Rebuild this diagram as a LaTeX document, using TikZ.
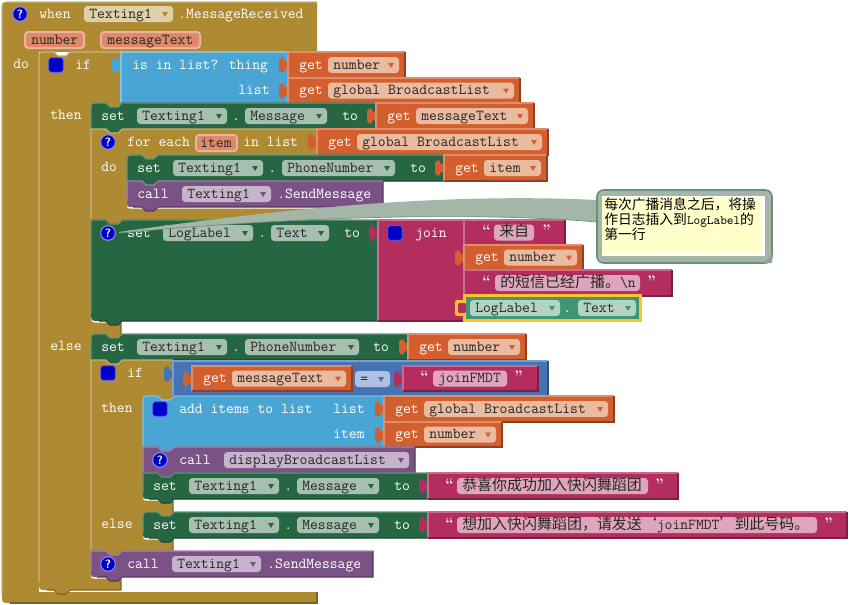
\documentclass[tikz,border=0pt]{standalone}
\usepackage{fontspec}
\usepackage{xcolor}
\usepackage{tikz}
\newfontfamily\cjk[Scale=0.985]{Noto Sans CJK SC}
\newcommand{\fwcomma}{\symbol{"FF0C}}

% 积木颜色
\definecolor{brownFill}{HTML}{AE8A33}
\definecolor{brownLight}{HTML}{CBB474}
\definecolor{brownDark}{HTML}{7F6525}
\definecolor{blueFill}{HTML}{49A5D4}
\definecolor{blueLight}{HTML}{82C2E2}
\definecolor{blueDark}{HTML}{33739A}
\definecolor{greenFill}{HTML}{266643}
\definecolor{greenLight}{HTML}{67947B}
\definecolor{greenDark}{HTML}{1B4730}
\definecolor{orangeFill}{HTML}{D25F2D}
\definecolor{orangeLight}{HTML}{E08D6C}
\definecolor{orangeDark}{HTML}{933F1F}
\definecolor{purpleFill}{HTML}{7B5285}
\definecolor{purpleLight}{HTML}{A386AA}
\definecolor{purpleDark}{HTML}{56395D}
\definecolor{pinkFill}{HTML}{B32D5E}
\definecolor{pinkLight}{HTML}{CA6C8E}
\definecolor{pinkDark}{HTML}{7D1F41}
\definecolor{steelFill}{HTML}{4573B4}
\definecolor{steelLight}{HTML}{7D9FCC}
\definecolor{steelDark}{HTML}{30507E}
\definecolor{labelFill}{HTML}{3E9674}
\definecolor{labelEdge}{HTML}{FFC32A}
\definecolor{getPill}{HTML}{EBBBA0}
\definecolor{setPill}{HTML}{A7BFB0}
\definecolor{callPill}{HTML}{C5B4CB}
\definecolor{textPill}{HTML}{DFA5BD}
\definecolor{whenPill}{HTML}{DED1A9}
\definecolor{labelPill}{HTML}{B3D4C3}
\definecolor{steelPill}{HTML}{AFC0E0}
\definecolor{argPill}{HTML}{DE8A6A}
\definecolor{argEdge}{HTML}{EDB39F}
\definecolor{iconBlue}{HTML}{0000C8}
\definecolor{noteGreen}{HTML}{A3B6A8}
\definecolor{noteEdge}{HTML}{6E8F77}
\definecolor{noteYellow}{HTML}{FFFFCC}

\tikzset{
    lab/.style={text=white, inner sep=0pt, anchor=base west, font=\ttfamily\fontsize{11.4}{11.4}\selectfont},
    quotemark/.style={lab, font=\rmfamily\bfseries\fontsize{11.4}{11.4}\selectfont},
    pilltext/.style={text=black!85, inner sep=0pt, anchor=base west, font=\ttfamily\fontsize{11.4}{11.4}\selectfont},
    helpicon/.style={circle, fill=iconBlue, draw=iconBlue!45, line width=.8pt, minimum size=11pt, inner sep=0pt,
        text=white, font=\sffamily\bfseries\fontsize{9}{9}\selectfont},
    mutator/.style={rectangle, rounded corners=2pt, fill=iconBlue, draw=iconBlue!60, line width=.6pt, minimum size=11pt, inner sep=0pt},
}

% 语句积木: 种类, x0, y0, x1, y1, 上圆角, 下圆角
\newcommand{\Stmt}[7]{
    \ifnum#7>0
        \fill[white, yshift=-1.2pt] (#2,{#5-#7}) .. controls (#2,#5) .. ({#2+#7},#5) -- (#4,#5) -- (#4,{#5-#7}) -- cycle;
    \fi
    \fill[#1Fill] (#2,{#3+#6}) .. controls (#2,#3) .. ({#2+#6},#3) -- ({#2+15},#3) -- ({#2+19},{#3+4}) -- ({#2+27},{#3+4}) -- ({#2+31},#3)
        -- (#4,#3) -- (#4,#5) -- ({#2+31},#5) -- ({#2+27},{#5+4}) -- ({#2+19},{#5+4}) -- ({#2+15},#5)
        -- ({#2+#7},#5) .. controls (#2,#5) .. (#2,{#5-#7}) -- cycle;
    \draw[#1Light, line width=.8pt] (#2,{#5-#7}) -- (#2,{#3+#6}) .. controls (#2,#3) .. ({#2+#6},#3) -- ({#2+15},#3)
        -- ({#2+19},{#3+4}) -- ({#2+27},{#3+4}) -- ({#2+31},#3) -- (#4,#3);
    \draw[#1Dark, line width=.8pt] (#4,#3) -- (#4,#5) -- ({#2+31},#5) -- ({#2+27},{#5+4}) -- ({#2+19},{#5+4}) -- ({#2+15},#5)
        -- ({#2+#7},#5);
}
% 取值积木: 种类, x0, y0, x1, y1 (左边带插头)
\newcommand{\Val}[5]{
    \fill[#1Fill] (#2,#3) -- (#4,#3) -- (#4,#5) -- (#2,#5) -- (#2,{#3+17})
        [rounded corners=1.5pt] -- ({#2-4},{#3+17}) -- ({#2-4},{#3+21}) -- ({#2-9},{#3+20}) -- ({#2-9},{#3+6}) -- ({#2-4},{#3+5}) -- ({#2-4},{#3+9}) [sharp corners] -- (#2,{#3+9}) -- cycle;
    \draw[#1Light, line width=.8pt] (#2,#5) -- (#2,#3) -- (#4,#3);
    \draw[#1Dark, line width=.8pt] (#4,#3) -- (#4,#5) -- (#2,#5);
}
% 白色文字
\newcommand{\Lab}[4]{\node[lab] (#1) at (#2,{#3+4}) {#4};}
% 下拉框: 名字, x0, x1, y, 底色, 三角色, 文字
\newcommand{\Pill}[7]{
    \fill[#5, rounded corners=2.5pt] (#2,{#4-8}) rectangle (#3,{#4+8});
    \fill[#6] ({#3-11},{#4-2}) -- ({#3-5},{#4-2}) -- ({#3-8},{#4+3}) -- cycle;
    \node[pilltext] (#1) at ({#2+5},{#4+4}) {#7};
}
\newcommand{\SetPill}[5]{\Pill{#1}{#2}{#3}{#4}{setPill}{greenFill}{#5}}
\newcommand{\CallPill}[5]{\Pill{#1}{#2}{#3}{#4}{callPill}{purpleFill}{#5}}
% get 积木: 名字, x0, y0, x1, y1, 文字
\newcommand{\GetBlock}[6]{
    \Val{orange}{#2}{#3}{#4}{#5}
    \pgfmathsetmacro{\midY}{(#3+#5)/2}
    \pgfmathsetmacro{\getX}{#2+11}
    \pgfmathsetmacro{\pillL}{#2+40}
    \pgfmathsetmacro{\pillR}{#4-6}
    \Lab{#1Get}{\getX}{\midY}{get}
    \Pill{#1}{\pillL}{\pillR}{\midY}{getPill}{orangeFill}{#6}
}
% 文本积木: 名字, x0, y0, x1, y1, 前引号x, 框x0, 框x1, 后引号x, 文字
\newcommand{\TextBlock}[9]{
    \Val{pink}{#2}{#3}{#4}{#5}
    \pgfmathsetmacro{\midY}{(#3+#5)/2}
    \pgfmathsetmacro{\bodyX}{#7+5}
    \node[quotemark] (#1Open) at (#6,{\midY+3}) {“};
    \fill[textPill, rounded corners=2.5pt] (#7,{\midY-8}) rectangle (#8,{\midY+8});
    \node[quotemark] (#1Close) at (#9,{\midY+3}) {”};
    \node[pilltext] (#1) at (\bodyX,{\midY+4})
}

\begin{document}
\begin{tikzpicture}[x=.75pt, y=-.75pt]
    \useasboundingbox (0,0) rectangle (853,604);

    % 最外层 when 积木
    \fill[brownFill] (2,10) .. controls (2,2) .. (10,2) -- (317,2) -- (317,603) -- (10,603) .. controls (2,603) .. (2,595) -- cycle;
    \fill[white] (39,52) rectangle (318,592);
    \draw[brownLight, line width=.8pt] (2,595) -- (2,10) .. controls (2,2) .. (10,2) -- (317,2);
    \draw[brownDark, line width=.8pt] (317,592) -- (317,603) -- (10,603);
    \node[helpicon] (whenHelp) at (20,14) {?};
    \Lab{whenLab}{39}{14}{when}
    \Pill{whenComp}{84}{173}{14}{whenPill}{brownFill}{Texting1}
    \Lab{whenEvent}{178}{14}{.MessageReceived}
    \fill[argEdge, rounded corners=3pt] (24,31) rectangle (85,49);
    \fill[argPill, rounded corners=2pt] (26,33) rectangle (83,47);
    \node[pilltext] (argNumber) at (31,44) {number};
    \fill[argEdge, rounded corners=3pt] (100,31) rectangle (201,49);
    \fill[argPill, rounded corners=2pt] (102,33) rectangle (199,47);
    \node[pilltext] (argMessage) at (107,44) {messageText};
    \Lab{whenDo}{13}{64}{do}

    % 外层 if
    \Stmt{brown}{39}{52}{121}{590}{8}{8}
    \node[mutator] (ifMutator) at (56,65) {};
    \Lab{ifLab}{75}{65}{if}
    \Lab{ifThen}{50}{115}{then}
    \Lab{ifElse}{50}{346}{else}

    % is in list?
    \Val{blue}{121}{52}{288}{103}
    \Lab{inListLab}{132}{65}{is in list? thing}
    \Lab{inListList}{238}{90}{list}
    \GetBlock{getNumberA}{288}{52}{405}{78}{number}
    \GetBlock{getListA}{288}{78}{520}{103}{global BroadcastList}

    % set Texting1.Message
    \Stmt{green}{91}{103}{376}{129}{8}{0}
    \Lab{setMsgLab}{101}{116}{set}
    \SetPill{setMsgComp}{137}{227}{116}{Texting1}
    \Lab{setMsgDot}{232}{116}{.}
    \SetPill{setMsgProp}{245}{327}{116}{Message}
    \Lab{setMsgTo}{342}{116}{to}
    \GetBlock{getMsgA}{376}{103}{534}{129}{messageText}

    % for each
    \Stmt{brown}{91}{129}{317}{220}{0}{0}
    \node[helpicon] (forHelp) at (108,142) {?};
    \Lab{forLab}{127}{142}{for each}
    \fill[argEdge, rounded corners=3pt] (195,134) rectangle (238,152);
    \fill[argPill, rounded corners=2pt] (197,136) rectangle (236,150);
    \node[pilltext] (forItem) at (200,147) {item};
    \Lab{forIn}{243}{142}{in list}
    \Lab{forDo}{101}{167}{do}
    \GetBlock{getListB}{317}{129}{548}{155}{global BroadcastList}

    % set PhoneNumber 和 SendMessage
    \Stmt{green}{127}{155}{444}{181}{8}{0}
    \Lab{setPhoneLab}{137}{168}{set}
    \SetPill{setPhoneComp}{173}{263}{168}{Texting1}
    \Lab{setPhoneDot}{268}{168}{.}
    \SetPill{setPhoneProp}{282}{395}{168}{PhoneNumber}
    \Lab{setPhoneTo}{410}{168}{to}
    \GetBlock{getItem}{444}{155}{547}{181}{item}
    \Stmt{purple}{127}{181}{383}{207}{0}{6}
    \Lab{callLab}{137}{194}{call}
    \CallPill{callComp}{182}{271}{194}{Texting1}
    \Lab{callMethod}{277}{194}{.SendMessage}

    % set LogLabel.Text
    \Stmt{green}{91}{220}{378}{321}{0}{8}
    \node[helpicon] (logHelp) at (108,233) {?};
    \Lab{logLab}{127}{233}{set}
    \SetPill{logComp}{163}{253}{233}{LogLabel}
    \Lab{logDot}{258}{233}{.}
    \SetPill{logProp}{271}{329}{233}{Text}
    \Lab{logTo}{344}{233}{to}

    % join
    \Val{pink}{378}{220}{464}{321}
    \node[mutator] (joinMutator) at (395,233) {};
    \Lab{joinLab}{415}{233}{join}
    \TextBlock{fromText}{464}{220}{565}{245}{482}{494}{534}{542} {{\cjk 来自}};
    \GetBlock{getNumberB}{464}{245}{583}{270}{number}
    \TextBlock{doneText}{464}{270}{672}{296}{482}{495}{640}{647} {{\cjk 的短信已经广播。}\textbackslash n};

    % LogLabel.Text 取值
    \fill[labelEdge] (463,294) rectangle (642,322);
    \fill[labelEdge, rounded corners=1.5pt] (464,316) -- (455,316) -- (455,300) -- (464,300) -- cycle;
    \fill[labelFill] (466,297) rectangle (639,319);
    \fill[pinkFill, rounded corners=1pt] (466,313) -- (458,313) -- (458,303) -- (466,303) -- cycle;
    \Pill{readComp}{470}{560}{308}{labelPill}{labelFill}{LogLabel}
    \Lab{readDot}{563}{308}{.}
    \Pill{readProp}{578}{636}{308}{labelPill}{labelFill}{Text}

    % set PhoneNumber
    \Stmt{green}{91}{334}{408}{360}{8}{0}
    \Lab{setPhone2Lab}{101}{347}{set}
    \SetPill{setPhone2Comp}{137}{227}{347}{Texting1}
    \Lab{setPhone2Dot}{232}{347}{.}
    \SetPill{setPhone2Prop}{245}{359}{347}{PhoneNumber}
    \Lab{setPhone2To}{373}{347}{to}
    \GetBlock{getNumberC}{408}{334}{526}{360}{number}

    % 内层 if
    \Stmt{brown}{91}{360}{173}{551}{0}{0}
    \node[mutator] (innerMutator) at (108,373) {};
    \Lab{innerIf}{127}{373}{if}
    \Lab{innerThen}{101}{408}{then}
    \Lab{innerElse}{101}{524}{else}

    % 比较积木
    \Val{steel}{173}{361}{548}{396}
    \GetBlock{getMsgB}{192}{366}{352}{391}{messageText}
    \fill[steelPill, rounded corners=2.5pt] (355,371) rectangle (390,387);
    \node[pilltext] (eqLab) at (360,383) {=};
    \fill[steelFill] (378,377) -- (384,377) -- (381,382) -- cycle;
    \TextBlock{joinText}{403}{366}{538}{391}{420}{433}{507}{514} {joinFMDT};

    % add items to list
    \Stmt{blue}{143}{396}{384}{447}{8}{0}
    \node[mutator] (addMutator) at (160,409) {};
    \Lab{addLab}{179}{409}{add items to list}
    \Lab{addList}{333}{409}{list}
    \Lab{addItem}{333}{434}{item}
    \GetBlock{getListC}{384}{396}{614}{422}{global BroadcastList}
    \GetBlock{getNumberD}{384}{422}{502}{447}{number}

    % call displayBroadcastList
    \Stmt{purple}{143}{447}{415}{473}{0}{0}
    \node[helpicon] (dispHelp) at (160,460) {?};
    \Lab{dispLab}{179}{460}{call}
    \CallPill{dispProc}{224}{409}{460}{displayBroadcastList}

    % then 的 set Message
    \Stmt{green}{143}{473}{428}{499}{0}{6}
    \Lab{okLab}{153}{486}{set}
    \SetPill{okComp}{189}{279}{486}{Texting1}
    \Lab{okDot}{284}{486}{.}
    \SetPill{okProp}{297}{379}{486}{Message}
    \Lab{okTo}{394}{486}{to}
    \TextBlock{okText}{428}{473}{678}{499}{445}{457}{648}{655} {{\cjk 恭喜你成功加入快闪舞蹈团}};

    % else 的 set Message
    \Stmt{green}{143}{512}{428}{538}{8}{6}
    \Lab{askLab}{153}{525}{set}
    \SetPill{askComp}{189}{279}{525}{Texting1}
    \Lab{askDot}{284}{525}{.}
    \SetPill{askProp}{297}{379}{525}{Message}
    \Lab{askTo}{394}{525}{to}
    \TextBlock{askText}{428}{512}{847}{538}{445}{457}{817}{824} {{\cjk 想加入快闪舞蹈团\fwcomma 请发送‘}joinFMDT{\cjk ’到此号码。}};

    % call SendMessage
    \Stmt{purple}{91}{551}{373}{577}{0}{6}
    \node[helpicon] (sendHelp) at (108,564) {?};
    \Lab{sendLab}{127}{564}{call}
    \CallPill{sendComp}{172}{261}{564}{Texting1}
    \Lab{sendMethod}{267}{564}{.SendMessage}

    % 注释气泡
    \fill[noteGreen] (119,232) .. controls (260,212) and (430,192) .. (597,200) -- (597,222) .. controls (480,212) and (300,216) .. (119,233) -- cycle;
    \draw[noteEdge, line width=.5pt] (597,222) .. controls (480,212) and (300,216) .. (119,233);
    \draw[noteEdge, fill=noteGreen, line width=1.2pt, rounded corners=5pt] (597,190) rectangle (772,263);
    \fill[white] (602,196) rectangle (765,256);
    \fill[noteYellow] (602,197) rectangle (762,253);
    \fill[noteGreen!60!gray] (772,254) -- (772,263) -- (763,263) -- cycle;
    \node[anchor=north west, inner sep=0pt, align=left, text=black, font=\ttfamily\fontsize{10.5}{11.25}\selectfont] (noteText) at (604,198)
        {{\cjk 每次广播消息之后\fwcomma 将操}\\ {\cjk 作日志插入到}{\fontsize{9.5}{11.25}\selectfont LogLabel}{\cjk 的}\\ {\cjk 第一行}};
\end{tikzpicture}
\end{document}
